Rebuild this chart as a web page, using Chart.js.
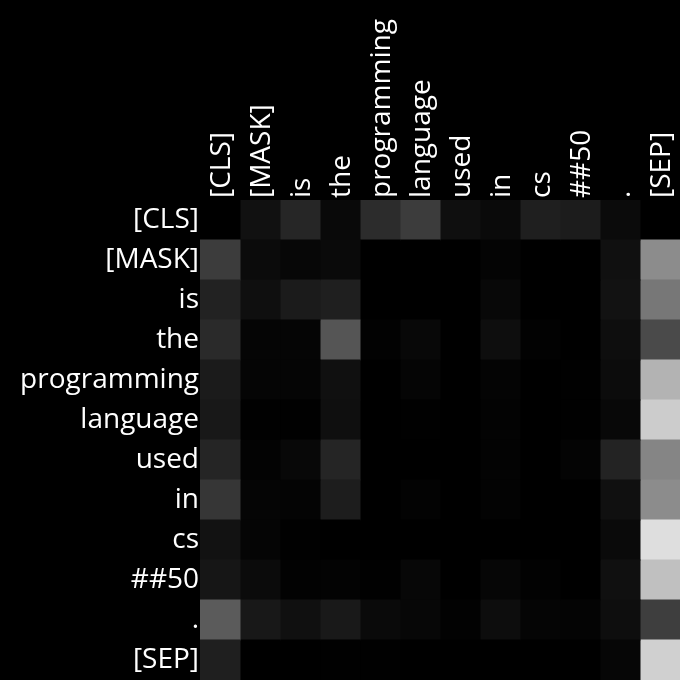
<!DOCTYPE html>
<html>
<head>
<meta charset="utf-8">
<script src="https://cdn.jsdelivr.net/npm/chart.js@4.4.1/dist/chart.umd.min.js"></script>
<style>
html,body{margin:0;padding:0;background:#000;}
#wrap{width:680px;height:680px;position:relative;}
</style>
</head>
<body>
<div id="wrap"><canvas id="c" width="680" height="680"></canvas></div>
<script>
const tokens = ["[CLS]","[MASK]","is","the","programming","language","used","in","cs","##50",".","[SEP]"];
const rowLabels = tokens;
const colLabels = tokens;

// attention weights, rows = query tokens, columns = key tokens
const attRow0  = [0.000,0.067,0.149,0.035,0.173,0.235,0.059,0.039,0.122,0.110,0.043,0.000];
const attRow1  = [0.235,0.043,0.027,0.039,0.000,0.000,0.000,0.016,0.000,0.000,0.063,0.549];
const attRow2  = [0.133,0.059,0.106,0.122,0.000,0.000,0.000,0.031,0.000,0.000,0.071,0.467];
const attRow3  = [0.165,0.020,0.020,0.333,0.008,0.031,0.000,0.055,0.008,0.000,0.055,0.290];
const attRow4  = [0.106,0.020,0.020,0.063,0.000,0.020,0.000,0.016,0.000,0.004,0.047,0.702];
const attRow5  = [0.094,0.004,0.004,0.059,0.000,0.004,0.000,0.012,0.000,0.004,0.031,0.800];
const attRow6  = [0.145,0.012,0.031,0.145,0.000,0.000,0.000,0.012,0.000,0.016,0.137,0.522];
const attRow7  = [0.212,0.020,0.016,0.114,0.000,0.012,0.000,0.012,0.000,0.000,0.063,0.549];
const attRow8  = [0.071,0.020,0.004,0.000,0.000,0.000,0.000,0.000,0.000,0.000,0.039,0.871];
const attRow9  = [0.086,0.043,0.008,0.012,0.004,0.027,0.000,0.024,0.008,0.000,0.063,0.753];
const attRow10 = [0.357,0.094,0.063,0.098,0.039,0.027,0.008,0.051,0.020,0.016,0.055,0.243];
const attRow11 = [0.122,0.000,0.000,0.004,0.004,0.000,0.000,0.000,0.000,0.000,0.024,0.816];
const attention = [attRow0,attRow1,attRow2,attRow3,attRow4,attRow5,attRow6,attRow7,attRow8,attRow9,attRow10,attRow11];

function gray(v){
  const g = Math.round(Math.max(0,Math.min(1,v))*255);
  return `rgb(${g},${g},${g})`;
}

// one stacked horizontal-bar dataset per key column; each segment is one cell
const datasets = colLabels.map((c, j) => ({
  label: c,
  data: rowLabels.map(() => 1),
  backgroundColor: rowLabels.map((r, i) => gray(attention[i][j])),
  borderWidth: 0,
  barPercentage: 1.0,
  categoryPercentage: 1.0,
  inflateAmount: 0.5
}));

const font = {family: "'Open Sans'", size: 28};

new Chart(document.getElementById('c'), {
  type: 'bar',
  data: {labels: rowLabels, datasets},
  options: {
    indexAxis: 'y',
    responsive: false,
    animation: false,
    layout: {padding: 0},
    plugins: {legend: {display: false}, tooltip: {enabled: false}},
    scales: {
      x: {
        type: 'linear',
        position: 'top',
        stacked: true,
        min: 0,
        max: colLabels.length,
        grid: {display: false, drawTicks: false},
        border: {display: false},
        afterBuildTicks: (axis) => { axis.ticks = colLabels.map((_, i) => ({value: i + 0.5})); },
        afterFit: (axis) => {
          axis.height = 200;
          axis.paddingLeft = 0; axis.paddingRight = 0;
          axis.paddingTop = 0; axis.paddingBottom = 0;
        },
        ticks: {
          autoSkip: false,
          minRotation: 90,
          maxRotation: 90,
          padding: 2,
          labelOffset: 36,
          color: '#ffffff',
          font,
          callback: (v) => colLabels[Math.floor(v)]
        }
      },
      y: {
        type: 'category',
        stacked: true,
        grid: {display: false, drawTicks: false},
        border: {display: false},
        afterFit: (axis) => {
          axis.width = 200;
          axis.paddingTop = 0; axis.paddingBottom = 0;
          axis.paddingLeft = 0; axis.paddingRight = 0;
        },
        ticks: {
          autoSkip: false,
          padding: 1,
          color: '#ffffff',
          font
        }
      }
    }
  }
});
</script>
</body>
</html>
